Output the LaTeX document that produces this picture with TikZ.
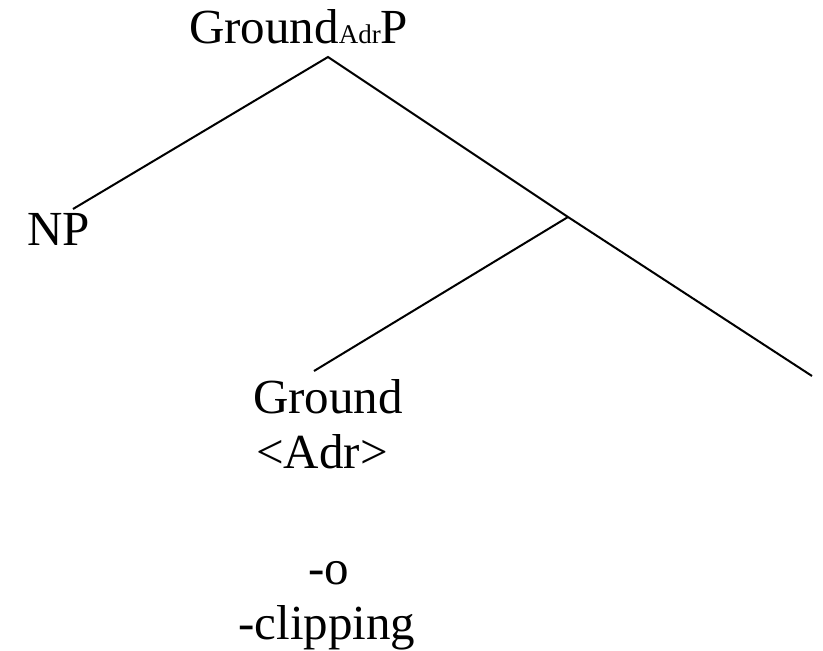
\documentclass[tikz,border=0pt]{standalone}
\usepackage{fontspec}
\setmainfont{Liberation Serif}
\usetikzlibrary{positioning}
\tikzset{branch/.style={draw=black,line width=2pt},
  lbl/.style={inner sep=0pt,font=\fontsize{49}{56}\selectfont}}

\begin{document}
\begin{tikzpicture}[x=1pt,y=-1pt]
    \useasboundingbox(0,0)rectangle(823,651);
    \node[lbl,anchor=base west](gp) at (189,43){Ground{\fontsize{27}{30}\selectfont Adr}P};
    \node[lbl,anchor=base west](np) at (27,245){NP};
    \node[lbl,anchor=base west](ground) at (253,413){Ground};
    \node[lbl,anchor=base west](adr) at (256,468){<Adr>};
    \node[lbl,anchor=base](o) at (329,584){-o};
    \node[lbl,anchor=base](clip) at (327,639){-clipping};
    \coordinate(top) at (328,57);\coordinate(mid) at (568,217);
    \coordinate(npend) at (73,209);\coordinate(gend) at (314,371);\coordinate(rend) at (812,376);
    \draw[branch](npend)--(top)--(mid)--(rend)(gend)--(mid);
  \end{tikzpicture}
\end{document}
